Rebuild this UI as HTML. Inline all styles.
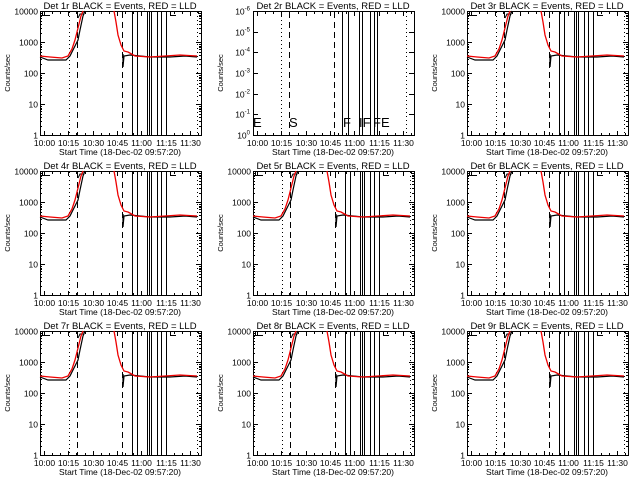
<!DOCTYPE html>
<html><head><style>
html,body{margin:0;padding:0;background:#fff;}
svg{display:block;}
text{font-family:"Liberation Sans",sans-serif;fill:#000;}
line,rect{shape-rendering:crispEdges;}
</style></head><body>
<svg id="s" width="640" height="480" xmlns="http://www.w3.org/2000/svg"></svg>
<script>
var s=document.getElementById('s'),h='';
var X=function(m){return Math.round(44+1.62*m)+0.5;};
function panel(ox,oy,n,special){
 var g='<g transform="translate('+ox+','+oy+')">';
 g+='<rect x="40.5" y="11.5" width="161" height="124" fill="none" stroke="#000" stroke-width="1"/>';
 g+='<text x="120" y="9" font-size="9.5" text-anchor="middle">Det '+n+'r BLACK = Events, RED = LLD</text>';
 var tl=['10:00','10:15','10:30','10:45','11:00','11:15','11:30'];
 for(var i=0;i<7;i++){var x=X(i*15);g+='<line x1="'+x+'" y1="135" x2="'+x+'" y2="131" stroke="#000"/><line x1="'+x+'" y1="12" x2="'+x+'" y2="16" stroke="#000"/>';
  g+='<text x="'+x+'" y="146" font-size="8.5" text-anchor="middle">'+tl[i]+'</text>';
  for(var k=1;k<3;k++){var xm=X(i*15+k*5);if(xm<201){g+='<line x1="'+xm+'" y1="135" x2="'+xm+'" y2="133" stroke="#000"/><line x1="'+xm+'" y1="12" x2="'+xm+'" y2="14" stroke="#000"/>';}}}
 g+='<text x="120" y="155" font-size="8.5" text-anchor="middle">Start Time (18-Dec-02 09:57:20)</text>';
 g+='<text transform="translate(10,73) rotate(-90)" font-size="7.5" text-anchor="middle">Counts/sec</text>';
 if(!special){
  var yl=['1','10','100','1000','10000'];
  for(var d=0;d<5;d++){var y=135.5-31*d;g+='<text x="38" y="'+(y+3)+'" font-size="8.5" text-anchor="end">'+yl[d]+'</text>';
   g+='<line x1="40" y1="'+y+'" x2="45" y2="'+y+'" stroke="#000"/><line x1="196" y1="'+y+'" x2="201" y2="'+y+'" stroke="#000"/>';
   if(d<4)for(var k=2;k<10;k++){var ym=Math.round(y-31*Math.log10(k))+0.5;g+='<line x1="40" y1="'+ym+'" x2="42" y2="'+ym+'" stroke="#000"/><line x1="199" y1="'+ym+'" x2="201" y2="'+ym+'" stroke="#000"/>';}}
 }else{
  for(var d=0;d<7;d++){var y=Math.round(135-d*20.67)+0.5;var e=d==0?'0':'-'+d;
   g+='<text x="37" y="'+(y+3)+'" font-size="8.5" text-anchor="end">10<tspan font-size="6" dy="-4">'+e+'</tspan></text>';
   g+='<line x1="40" y1="'+y+'" x2="45" y2="'+y+'" stroke="#000"/><line x1="196" y1="'+y+'" x2="201" y2="'+y+'" stroke="#000"/>';}
 }
 var vs=special?[129,135,146,149,157,161,164]:[132,137,147,149,151,157,161,166];
 var dash=special?[76,121]:[77,122], dot=special?[68,193]:[69,197];
 dot.forEach(function(x){x+=0.5;g+='<line x1="'+x+'" y1="12" x2="'+x+'" y2="135" stroke="#000" stroke-dasharray="1,3"/>';});
 dash.forEach(function(x){x+=0.5;g+='<line x1="'+x+'" y1="12" x2="'+x+'" y2="135" stroke="#000" stroke-dasharray="6,4"/>';});
 vs.forEach(function(x){x+=0.5;g+='<line x1="'+x+'" y1="12" x2="'+x+'" y2="135" stroke="#000"/>';});
 if(special){
  [['E',40],['S',76],['F',130],['IF',146],['FE',160]].forEach(function(t){g+='<text x="'+t[1]+'" y="127" font-size="13">'+t[0]+'</text>';});
 }else{
  g+='<polyline fill="none" stroke="#000" stroke-width="1.2" points="40,57 48,60 66,60 70,56 73,50 76,44 78,40 80,30 83,16 85,11"/>';
  g+='<polyline fill="none" stroke="#000" points="42.5,11 42.5,15.5 50,15.5"/><polyline fill="none" stroke="#000" points="78,18 80,14 84,14 84,11"/>';
  g+='<polyline fill="none" stroke="#000" stroke-width="1.2" points="123,54 123,67 124,56 130,55 150,57 170,57 185,56 197,57"/>';
  g+='<polyline fill="none" stroke="#000" points="170.5,11 170.5,15.5 176,15.5"/>';
  g+='<polyline fill="none" stroke="#e00" stroke-width="1.3" points="40,56 50,57 62,58 68,56 72,49 75,40 78,28 81,16 83,11"/>';
  g+='<polyline fill="none" stroke="#e00" stroke-width="1.3" points="114,11 116,22 118,35 121,45 124,51 128,52 135,56 150,57 165,56 180,55 197,56"/>';
 }
 return g+'</g>';
}
var n=1;
for(var r=0;r<3;r++)for(var c=0;c<3;c++){h+=panel([0,213,427][c],r*160,n,n==2);n++;}
s.innerHTML=h;
</script>
</body></html>
